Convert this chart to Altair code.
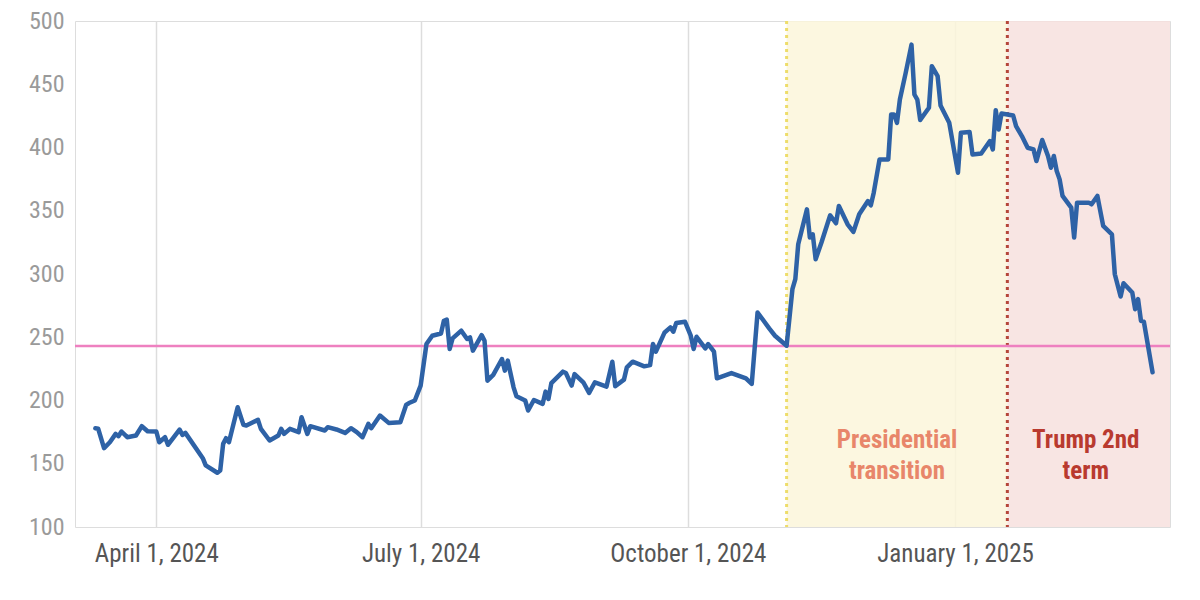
import altair as alt
import pandas as pd

# ---- data ----
BASE_DATE = "2024-03-11"
day_offset = [0,1,3,5,7,8,9,11,14,16,18,21,22,24,25,29,30,31,37,38,42,43,44,45,46,49,51,52,56,57,
              60,63,64,65,67,70,71,73,74,79,80,83,86,88,90,92,94,95,98,101,105,107,108,110,112,114,116,119,120,121,
              122,123,126,128,129,130,133,134,135,137,140,141,142,144,145,148,149,151,154,155,156,157,161,162,164,165,168,170,172,176,
              178,179,182,183,185,189,191,192,193,196,198,199,200,203,205,206,207,210,211,213,214,219,224,226,228,232,234,238,240,241,
              242,245,246,247,248,250,253,255,256,259,261,263,266,267,268,270,273,274,275,276,277,279,281,282,283,284,287,288,290,291,
              294,297,298,301,302,305,308,309,310,311,312,316,317,319,321,323,324,326,328,329,330,331,332,333,336,337,338,342,343,345,
              347,350,351,353,354,357,358,359,360,361,364]
price = [178,177.6,162.3,167,173.6,171.8,175.5,171,172.3,179.7,175.7,175.5,167,171,165,177,172.8,174.4,154.4,148.7,
         142.9,144.7,165.7,170.2,167,194.7,180.7,180.2,184.7,177.6,
         168.4,172.3,177.6,173.6,177.6,175,186.8,173.6,179.7,176.3,178.9,177.1,174.4,178.1,175,171,181.5,178.1,188.1,182.3,
         182.8,196.5,198,200,211.8,244.6,251.2,253,263,263.9,
         240.7,249.1,255.2,248.6,249.9,239.4,251.7,247.2,215.7,220.2,232.8,223.6,231.5,210.4,203.3,200,192.1,200.4,197.3,207,
         201.2,213.8,222.8,221.7,211.8,220.9,214.4,206,214.4,211,
         230.7,211.2,216.5,226.2,230.7,227,228,244.6,238.6,253.8,257.8,254.4,261.2,262.3,251.2,240.7,250.4,241.2,244.6,238.6,
         217.5,221.7,217.5,213.1,269.6,257,251.2,243.3,288,295.9,
         323.5,351.1,328.8,331.4,311.7,324.9,346.4,340.1,353.8,339.3,333.3,347.2,357.7,354.3,364.3,390.6,390.6,426.1,426.1,419.5,
         437.9,459,481.3,441.9,437.9,421.7,431.4,464.3,456.4,433.2,
         419.5,380.1,411.6,412.2,394.5,395.3,405.1,398.5,429.5,414.2,426.9,425.3,416.9,409,399.8,398.5,389.3,405.9,393.3,384,
         393.3,381.4,374.8,361.7,352.5,328.8,356.4,356.4,355.1,361.7,
         338,331.4,299.8,282.2,292.7,285.4,272.2,280.1,263,262.3,222.3]
assert len(day_offset) == len(price)

reference_level = 243

period_names = ["Presidential\ntransition", "Trump 2nd\nterm"]
period_start = ["2024-11-04", "2025-01-19"]
period_end = ["2025-01-19", "2025-03-16"]
period_mid = ["2024-12-12", "2025-02-15"]
period_fill = ["#FCF6DA", "#F7E1DE"]
period_rule = ["#EEDD6A", "#B5463A"]
period_text = ["#E8866A", "#B93A2F"]
label_value = [169, 169]

x_ticks = ["2024-04-01", "2024-07-01", "2024-10-01", "2025-01-01"]
y_ticks = [100, 150, 200, 250, 300, 350, 400, 450, 500]

X_DOMAIN = ["2024-03-04", "2025-03-16"]

FONT = "'Roboto Condensed', 'Liberation Sans Narrow', 'DejaVu Sans Condensed', Roboto, sans-serif"

# ---- tables ----
dates = (pd.Timestamp(BASE_DATE) + pd.to_timedelta(day_offset, unit="D")).strftime("%Y-%m-%d")
line_df = pd.DataFrame({"date": dates, "price": price})
periods = pd.DataFrame({
    "name": period_names, "start": period_start, "end": period_end, "mid": period_mid,
    "fill": period_fill, "rule": period_rule, "text": period_text, "lv": label_value,
})
ref_df = pd.DataFrame({"level": [reference_level]})

def dt(s):
    y, m, d = map(int, s.split("-"))
    return alt.DateTime(year=y, month=m, date=d, utc=True)

x_scale = alt.Scale(type="utc", domain=[dt(X_DOMAIN[0]), dt(X_DOMAIN[1])], nice=False)
y_scale = alt.Scale(domain=[100, 500], nice=False, zero=False)

x_axis = alt.Axis(
    values=[dt(s) for s in x_ticks], labelExpr="utcFormat(datum.value, '%B %-d, %Y')",
    grid=True, gridColor="#DDDDDD", gridWidth=1.5, ticks=False, domain=False,
    labelFont=FONT, labelFontSize=25, labelColor="#555555", labelPadding=14, title=None,
)
y_axis = alt.Axis(
    values=y_ticks, grid=False, ticks=False, domain=False,
    labelFont=FONT, labelFontSize=24, labelColor="#9A9A9A", labelPadding=11, title=None,
)

shade = alt.Chart(periods).mark_rect().encode(
    x=alt.X("start:T", scale=x_scale, axis=x_axis),
    x2="end:T",
    color=alt.Color("fill:N", scale=None),
    opacity=alt.value(0.85),
)

rules = alt.Chart(periods).mark_rule(strokeDash=[3, 4], strokeWidth=3).encode(
    x=alt.X("start:T", scale=x_scale),
    color=alt.Color("rule:N", scale=None),
)

ref_line = alt.Chart(ref_df).mark_rule(color="#EE80C0", strokeWidth=2.5).encode(
    y=alt.Y("level:Q", scale=y_scale, axis=y_axis),
)

line = alt.Chart(line_df).mark_line(
    color="#2E62A6", strokeWidth=4.5, strokeJoin="round", strokeCap="round"
).encode(
    x=alt.X("date:T", scale=x_scale),
    y=alt.Y("price:Q", scale=y_scale),
)

labels = alt.Chart(periods).mark_text(
    font=FONT, fontSize=25, fontWeight="bold", lineBreak="\n", lineHeight=31,
    align="center", baseline="middle",
).encode(
    x=alt.X("mid:T", scale=x_scale),
    y=alt.Y("lv:Q", scale=y_scale),
    text="name:N",
    color=alt.Color("text:N", scale=None),
)

chart = alt.layer(shade, rules, ref_line, line, labels).properties(
    width=1095, height=506,
    autosize=alt.AutoSizeParams(type="none"),
    padding={"left": 67, "top": 13, "right": 22, "bottom": 60},
).configure_view(stroke=None).configure(background="white")

chart.save("out.html", embed_options={"renderer": "svg", "actions": False})
